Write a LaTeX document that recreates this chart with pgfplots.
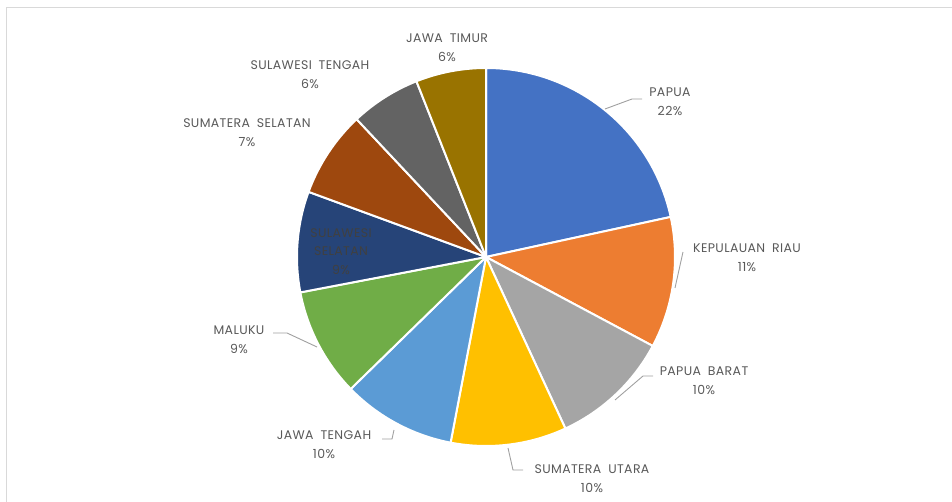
\documentclass[border=0pt]{standalone}
\usepackage{pgfplots}
\pgfplotsset{compat=1.18}
\usepackage{fontspec}
\setmainfont{Poppins}[LetterSpace=3]
\definecolor{cPapua}{HTML}{4472C4}
\definecolor{cKR}{HTML}{ED7D31}
\definecolor{cPB}{HTML}{A5A5A5}
\definecolor{cSU}{HTML}{FFC000}
\definecolor{cJT}{HTML}{5B9BD5}
\definecolor{cMal}{HTML}{70AD47}
\definecolor{cSulSel}{HTML}{264478}
\definecolor{cSumSel}{HTML}{9E480E}
\definecolor{cSulTeng}{HTML}{636363}
\definecolor{cJTim}{HTML}{997300}
\definecolor{lbl}{HTML}{595959}
\definecolor{lead}{HTML}{A0A0A0}
\newcommand\wsp{\hspace{0.55em}}
\begin{document}
\begin{tikzpicture}
\begin{axis}[
  width=952pt, height=502pt, scale only axis,
  xmin=0, xmax=952, ymin=0, ymax=502,
  axis lines=none, clip=false,
]
% frame
\draw[color={rgb,255:red,217;green,217;blue,217}, line width=1pt] (axis cs:6.5,0) -- (axis cs:6.5,494) -- (axis cs:952,494);
% slices: percentage / colour, clockwise from 12 o'clock
\def\cum{90}
\pgfplotsforeachungrouped \v/\c in {21.6/cPapua, 11.2/cKR, 10.3/cPB, 9.9/cSU, 9.7/cJT, 9.3/cMal, 8.6/cSulSel, 7.4/cSumSel, 6.0/cSulTeng, 6.0/cJTim} {
  \pgfmathsetmacro\endang{\cum - 3.6*\v}
  \edef\temp{\noexpand\filldraw[fill=\c, draw=white, line width=2pt, line join=round] (axis cs:486,245) -- ++(\cum:189pt) arc[start angle=\cum, end angle=\endang, radius=189pt] -- cycle;}
  \temp
  \global\let\cum\endang
}
% leader lines
\draw[lead, line width=0.9pt] (axis cs:642,403) -- (axis cs:632,403) -- (axis cs:605,393);
\draw[lead, line width=0.9pt] (axis cs:683,250) -- (axis cs:675,214);
\draw[lead, line width=0.9pt] (axis cs:653,126) -- (axis cs:643,126) -- (axis cs:615,102);
\draw[lead, line width=0.9pt] (axis cs:508,54) -- (axis cs:513,32) -- (axis cs:523,32);
\draw[lead, line width=0.9pt] (axis cs:382,63) -- (axis cs:392,63) -- (axis cs:394,72);
\draw[lead, line width=0.9pt] (axis cs:273,169) -- (axis cs:287,169) -- (axis cs:317,155);
% labels
\tikzset{lab/.style={align=center, text=lbl, inner sep=0pt, font={\fontsize{12.5}{19}\selectfont}}}
\node[lab] at (axis cs:670,400) {PAPUA\\22\%};
\node[lab] at (axis cs:747,244.5) {KEPULAUAN\wsp RIAU\\11\%};
\node[lab] at (axis cs:704,121) {PAPUA\wsp BARAT\\10\%};
\node[lab] at (axis cs:592,23) {SUMATERA\wsp UTARA\\10\%};
\node[lab] at (axis cs:324,57.5) {JAWA\wsp TENGAH\\10\%};
\node[lab] at (axis cs:239,162.5) {MALUKU\\9\%};
\node[lab, text={rgb,255:red,64;green,64;blue,64}, font={\fontsize{12.5}{18.5}\selectfont}] at (axis cs:341,250.5) {SULAWESI\\SELATAN\\9\%};
\node[lab] at (axis cs:247,369.5) {SUMATERA\wsp SELATAN\\7\%};
\node[lab] at (axis cs:310,427) {SULAWESI\wsp TENGAH\\6\%};
\node[lab] at (axis cs:447,454) {JAWA\wsp TIMUR\\6\%};
\end{axis}
\pgfresetboundingbox
\useasboundingbox (0,0) rectangle (952pt,502pt);
\end{tikzpicture}
\end{document}
